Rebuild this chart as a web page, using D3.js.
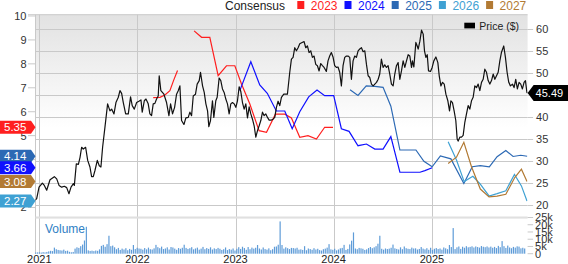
<!DOCTYPE html>
<html lang="en">
<head>
<meta charset="utf-8">
<script src="https://cdn.jsdelivr.net/npm/d3@7"></script>
<style>
  body { margin: 0; background: #fff; }
  svg { display: block; font-family: "Liberation Sans", Arial, sans-serif; }
</style>
</head>
<body>
<div id="chart"></div>
<script>

// price, weekly-ish closes: [decimal year, $]
var price = [
  [2020.956,21.0],[2020.973,21.4],[2020.997,24.0],[2021.031,24.9],[2021.051,24.4],[2021.075,23.3],[2021.109,25.7],[2021.153,26.4],[2021.177,25.9],[2021.201,24.4],
  [2021.228,24.0],[2021.255,24.2],[2021.279,23.9],[2021.302,22.5],[2021.323,24.0],[2021.347,24.8],[2021.357,24.4],[2021.377,29.3],[2021.398,29.2],[2021.415,30.8],
  [2021.431,33.1],[2021.448,32.7],[2021.472,33.1],[2021.493,30.1],[2021.516,28.6],[2021.533,26.4],[2021.550,26.4],[2021.567,27.8],[2021.591,30.1],[2021.611,28.9],
  [2021.628,28.6],[2021.645,33.1],[2021.669,37.7],[2021.696,43.0],[2021.720,41.4],[2021.737,41.8],[2021.761,40.7],[2021.781,43.3],[2021.805,44.5],[2021.822,46.0],
  [2021.839,45.4],[2021.856,43.3],[2021.880,40.7],[2021.907,40.7],[2021.930,44.6],[2021.947,42.6],[2021.968,41.8],[2021.992,43.3],[2022.015,43.6],[2022.036,43.9],
  [2022.049,41.1],[2022.070,43.7],[2022.087,44.1],[2022.110,43.0],[2022.127,40.7],[2022.144,40.3],[2022.161,43.0],[2022.178,43.1],[2022.195,44.1],[2022.212,44.8],
  [2022.222,49.4],[2022.239,46.0],[2022.270,45.2],[2022.297,43.3],[2022.321,40.3],[2022.338,43.0],[2022.358,40.7],[2022.379,42.2],[2022.399,45.2],[2022.416,46.0],
  [2022.433,47.1],[2022.450,39.2],[2022.474,38.3],[2022.494,39.8],[2022.518,39.9],[2022.535,41.1],[2022.552,40.3],[2022.569,44.8],[2022.592,45.2],[2022.609,47.5],
  [2022.630,48.3],[2022.643,50.2],[2022.664,47.1],[2022.681,45.6],[2022.698,43.0],[2022.715,41.4],[2022.728,37.8],[2022.745,39.2],[2022.765,43.7],[2022.779,39.9],
  [2022.799,43.7],[2022.813,44.5],[2022.833,48.9],[2022.850,48.3],[2022.867,46.4],[2022.884,45.6],[2022.901,44.1],[2022.918,43.0],[2022.935,40.7],[2022.952,43.0],
  [2022.969,43.3],[2022.986,43.0],[2023.003,42.2],[2023.020,43.7],[2023.037,46.9],[2023.054,45.8],[2023.071,43.3],[2023.088,41.8],[2023.105,43.0],[2023.122,39.8],
  [2023.139,42.3],[2023.156,40.7],[2023.173,39.5],[2023.190,38.0],[2023.207,35.4],[2023.224,36.9],[2023.241,38.0],[2023.258,39.2],[2023.275,41.1],[2023.292,40.3],
  [2023.309,40.7],[2023.326,39.9],[2023.343,39.3],[2023.366,39.3],[2023.383,39.5],[2023.400,39.9],[2023.417,42.2],[2023.434,43.6],[2023.451,42.6],[2023.468,44.5],
  [2023.492,45.2],[2023.529,45.2],[2023.553,50.2],[2023.570,53.2],[2023.587,53.6],[2023.604,55.8],[2023.621,55.1],[2023.638,55.8],[2023.655,56.7],[2023.679,57.0],
  [2023.699,57.2],[2023.716,55.8],[2023.733,56.2],[2023.750,54.7],[2023.767,55.1],[2023.784,53.6],[2023.801,53.9],[2023.818,52.0],[2023.835,51.7],[2023.852,50.5],
  [2023.869,52.2],[2023.886,51.7],[2023.903,51.3],[2023.926,50.4],[2023.943,52.8],[2023.960,53.9],[2023.977,54.7],[2023.994,53.7],[2024.011,51.7],[2024.028,51.3],
  [2024.045,51.4],[2024.062,50.2],[2024.079,47.1],[2024.096,51.7],[2024.113,53.6],[2024.130,53.9],[2024.147,53.9],[2024.164,53.6],[2024.181,48.6],[2024.198,52.8],
  [2024.215,53.9],[2024.232,53.6],[2024.249,55.1],[2024.266,55.5],[2024.283,55.8],[2024.300,54.9],[2024.317,55.1],[2024.334,52.0],[2024.351,49.4],[2024.368,49.0],
  [2024.385,47.5],[2024.402,47.1],[2024.419,47.5],[2024.436,47.9],[2024.453,48.6],[2024.469,49.8],[2024.486,53.2],[2024.503,51.3],[2024.520,51.9],[2024.537,51.3],
  [2024.554,51.7],[2024.571,49.8],[2024.588,47.5],[2024.605,47.1],[2024.622,49.8],[2024.639,51.7],[2024.656,52.4],[2024.673,48.6],[2024.690,50.5],[2024.707,52.8],
  [2024.724,51.3],[2024.741,52.8],[2024.758,54.2],[2024.775,53.9],[2024.792,51.3],[2024.802,52.8],[2024.816,51.4],[2024.836,57.0],[2024.850,56.2],[2024.860,55.5],
  [2024.877,57.3],[2024.894,59.8],[2024.911,58.9],[2024.924,55.1],[2024.938,53.6],[2024.952,54.2],[2024.965,50.5],[2024.985,50.4],[2025.002,51.3],[2025.019,52.8],
  [2025.040,53.7],[2025.060,52.4],[2025.074,49.4],[2025.091,47.1],[2025.108,47.9],[2025.125,47.5],[2025.142,45.2],[2025.162,43.7],[2025.179,41.4],[2025.193,43.7],
  [2025.209,43.3],[2025.226,41.4],[2025.243,39.2],[2025.257,35.0],[2025.267,34.5],[2025.284,35.4],[2025.301,35.4],[2025.318,35.8],[2025.335,38.8],[2025.352,40.7],
  [2025.369,42.6],[2025.386,41.8],[2025.403,43.7],[2025.420,44.5],[2025.437,47.1],[2025.454,46.7],[2025.471,47.5],[2025.488,46.0],[2025.505,47.9],[2025.522,48.6],
  [2025.539,50.9],[2025.556,50.2],[2025.573,48.3],[2025.590,47.5],[2025.607,48.3],[2025.624,49.8],[2025.641,48.6],[2025.658,49.4],[2025.675,50.2],[2025.692,52.8],
  [2025.708,54.7],[2025.732,56.2],[2025.749,53.6],[2025.766,50.2],[2025.783,47.9],[2025.800,47.1],[2025.821,47.5],[2025.837,46.7],[2025.854,48.6],[2025.871,46.4],
  [2025.888,47.9],[2025.905,47.5],[2025.922,46.4],[2025.939,47.9],[2025.953,48.3],[2025.968,45.6],[2025.975,45.49]
];

// consensus EPS by fiscal year: [decimal year, EPS], null = no estimate
var eps2023 = [
  [2022.161,6.59],[2022.229,6.60],[2022.280,6.70],[2022.331,6.88],[2022.368,7.30],[2022.409,7.72],[2022.49,null],
  [2022.578,9.38],[2022.654,9.11],[2022.738,9.11],[2022.823,7.51],[2022.908,7.92],[2022.993,7.92],[2023.061,7.16],
  [2023.146,6.32],[2023.240,5.21],[2023.316,5.14],[2023.407,5.90],[2023.502,5.90],[2023.570,5.74],[2023.655,4.93],
  [2023.739,5.00],[2023.825,4.86],[2023.909,5.35],[2023.994,5.35]
];
var eps2024 = [
  [2023.044,6.88],[2023.156,8.09],[2023.247,7.12],[2023.324,6.77],[2023.416,6.03],[2023.502,6.03],[2023.578,5.29],
  [2023.655,6.00],[2023.746,6.62],[2023.831,6.91],[2023.909,6.67],[2024.001,6.67],[2024.079,5.29],[2024.157,5.18],
  [2024.248,4.58],[2024.334,4.65],[2024.419,4.44],[2024.503,4.44],[2024.582,4.96],[2024.674,3.47],[2024.878,3.47],
  [2024.928,3.54],[2025.002,3.66]
];
var eps2025 = [
  [2024.167,6.92],[2024.248,6.68],[2024.332,7.08],[2024.419,7.06],[2024.503,7.02],[2024.582,6.23],[2024.674,4.40],
  [2024.837,4.40],[2024.918,3.93],[2025.002,3.70],[2025.086,4.15],[2025.193,4.03],[2025.325,3.00],[2025.411,3.70],
  [2025.493,3.75],[2025.585,3.70],[2025.664,4.12],[2025.753,4.38],[2025.827,4.13],[2025.905,4.18],[2025.971,4.14]
];
var eps2026 = [
  [2025.165,4.75],[2025.250,3.98],[2025.328,3.08],[2025.417,3.30],[2025.491,2.98],[2025.582,2.48],[2025.664,2.58],
  [2025.753,2.70],[2025.841,3.38],[2025.912,2.90],[2025.969,2.27]
];
var eps2027 = [
  [2025.165,3.84],[2025.250,4.10],[2025.325,4.72],[2025.403,3.70],[2025.493,2.77],[2025.582,2.44],[2025.664,2.47],
  [2025.753,2.55],[2025.844,3.25],[2025.912,3.60],[2025.969,3.08]
];

var seriesNames = ["2023", "2024", "2025", "2026", "2027"];
var seriesColors = ["#ff1f1f", "#1010ff", "#2c69b4", "#3fa1d3", "#b27a34"];

// weekly volume in thousands, first week ending 2020-12-18
var volumeStart = "2020-12-18";
var volume = [
  0.8,0.9,1.0,0.8,1.1,0.9,1.2,1.6,2.0,1.8,4.2,3.1,2.6,
  2.4,2.2,2.8,1.9,2.1,1.3,1.0,1.2,3.5,4.4,4.0,5.2,6.3,
  9.1,18.6,2.3,1.9,2.1,1.8,2.2,2.0,3.0,5.4,6.1,4.8,6.6,
  12.4,5.2,5.6,4.4,3.1,4.0,2.6,3.5,2.9,3.8,2.4,3.3,2.7,
  6.0,3.2,4.1,3.6,3.4,2.8,3.9,3.0,4.2,3.1,2.9,3.7,6.1,
  4.5,3.8,4.9,3.2,3.6,4.4,2.9,4.6,4.3,3.5,2.7,3.9,3.4,
  4.1,6.2,4.0,3.3,3.8,4.5,3.0,3.6,4.2,2.8,3.5,4.7,3.1,
  3.9,3.3,4.4,2.9,3.7,3.2,4.0,3.4,2.6,3.1,4.3,2.5,3.2,
  2.8,3.6,2.2,3.4,4.5,3.3,4.8,3.9,2.7,4.6,3.1,4.2,3.5,
  4.1,6.0,3.6,2.9,4.3,3.2,2.8,3.7,2.4,3.1,4.8,5.0,6.2,
  22.3,6.0,3.5,4.4,3.8,3.2,4.0,3.9,3.6,4.1,2.8,3.0,2.6,
  5.2,2.4,3.6,3.2,2.7,3.8,2.9,3.4,2.5,2.2,3.1,3.5,4.2,
  6.6,3.0,2.7,3.4,2.3,2.9,3.7,4.0,6.1,2.6,3.3,6.4,9.0,
  14.7,3.6,3.1,4.0,3.7,3.4,2.6,3.0,3.9,4.6,3.8,4.4,5.2,
  6.9,12.4,3.4,2.8,3.6,3.2,3.5,4.1,6.3,3.7,3.3,2.9,4.4,
  3.1,5.0,3.8,3.4,3.2,4.2,3.6,3.7,2.9,3.3,4.6,3.5,3.0,
  3.8,2.7,4.1,2.6,3.4,3.9,3.2,3.6,2.8,4.3,3.7,3.1,6.0,
  4.6,17.7,3.2,4.4,5.0,3.3,4.8,4.1,5.2,4.4,4.7,5.1,4.3,
  5.0,4.6,4.2,5.3,4.8,4.5,5.0,4.3,4.9,4.1,4.7,3.9,5.4,
  4.5,8.7,5.2,4.0,5.6,4.3,3.8,4.7,4.2,5.1,4.9,3.7,4.1,3.6
];

var priceTicks = [20, 25, 30, 35, 40, 45, 50, 55, 60];
var epsTicks = [2, 3, 4, 5, 6, 7, 8, 9, 10];
var volTicks = [0, 5, 10, 15, 20, 25];
var yearTicks = [2021, 2022, 2023, 2024, 2025];


var width = 568, height = 264;
var plotLeft = 35.5, plotRight = 527.6, plotTop = 14.7, mainBottom = 216.5, volTop = 218.6, volBottom = 253.7;

function toDate(t) {
    var y = Math.floor(t), a = Date.UTC(y, 0, 1), b = Date.UTC(y + 1, 0, 1);
    return new Date(a + (t - y) * (b - a));
}

var x = d3.scaleUtc().domain([toDate(2020.961), toDate(2025.975)]).range([plotLeft, plotRight]);
var yPrice = d3.scaleLinear().domain([17.31, 63.33]).range([mainBottom, plotTop]);
var yEps = d3.scaleLinear().domain([1.622, 10.054]).range([mainBottom, plotTop]);
var yVol = d3.scaleLinear().domain([0, 25]).range([volBottom, 217.5]);

var svg = d3.select("#chart").append("svg")
    .attr("width", width)
    .attr("height", height);

var defs = svg.append("defs");
var grad = defs.append("linearGradient")
    .attr("id", "bg").attr("x1", 0).attr("y1", 0).attr("x2", 0).attr("y2", 1);
grad.append("stop").attr("offset", 0).attr("stop-color", "#e2e2e2");
grad.append("stop").attr("offset", 0.56).attr("stop-color", "#ffffff");

defs.append("clipPath").attr("id", "clip")
    .append("rect")
    .attr("x", plotLeft).attr("y", plotTop)
    .attr("width", plotRight - plotLeft).attr("height", mainBottom - plotTop);

/*
 background of price panel
 */
svg.append("rect")
    .attr("x", plotLeft).attr("y", plotTop)
    .attr("width", plotRight - plotLeft).attr("height", mainBottom - plotTop)
    .style("fill", "url(#bg)");

// horizontal grid on price ticks
svg.selectAll(".hgrid")
    .data(priceTicks)
    .enter()
    .append("line")
    .attr("x1", plotLeft).attr("x2", plotRight)
    .attr("y1", function(d){ return Math.round(yPrice(d)) + 0.5; })
    .attr("y2", function(d){ return Math.round(yPrice(d)) + 0.5; })
    .style("stroke", "#c9c9c9");

// vertical grid on years, through both panels
svg.selectAll(".vgrid")
    .data(yearTicks)
    .enter()
    .append("line")
    .attr("x1", function(d){ return Math.round(x(toDate(d))) + 0.5; })
    .attr("x2", function(d){ return Math.round(x(toDate(d))) + 0.5; })
    .attr("y1", plotTop).attr("y2", volBottom)
    .style("stroke", "#c9c9c9");

// frame
svg.append("line")
    .attr("x1", 28).attr("x2", plotRight)
    .attr("y1", plotTop).attr("y2", plotTop)
    .style("stroke", "#c9c9c9");
svg.append("line")
    .attr("x1", plotLeft).attr("x2", plotLeft)
    .attr("y1", plotTop).attr("y2", volBottom)
    .style("stroke", "#c9c9c9");
svg.append("rect")
    .attr("x", plotLeft).attr("y", mainBottom)
    .attr("width", plotRight - plotLeft).attr("height", volTop - mainBottom)
    .style("fill", "#e0e0e0");

/*
 volume
 */
var start = d3.utcParse("%Y-%m-%d")(volumeStart);
svg.selectAll(".vol")
    .data(volume)
    .enter()
    .append("rect")
    .attr("x", function(d, i){ return x(d3.utcDay.offset(start, 7 * i)) - 0.6; })
    .attr("width", 1.2)
    .attr("y", function(d){ return yVol(d); })
    .attr("height", function(d){ return volBottom - yVol(d); })
    .style("fill", "#5f9cd8");

svg.append("text")
    .attr("x", 45).attr("y", 233)
    .text("Volume")
    .style("font-size", "12px")
    .style("fill", "#2f80c4");

/*
 consensus lines
 */
var plot = svg.append("g").attr("clip-path", "url(#clip)");
var epsLine = d3.line()
    .defined(function(d){ return d[1] != null; })
    .x(function(d){ return x(toDate(d[0])); })
    .y(function(d){ return yEps(d[1]); });

var allEps = [eps2023, eps2024, eps2025, eps2026, eps2027];
allEps.forEach(function(s, i){
    plot.append("path")
        .attr("d", epsLine(s))
        .style("fill", "none")
        .style("stroke", seriesColors[i])
        .style("stroke-width", 1.2);
});

// price line
var priceLine = d3.line()
    .x(function(d){ return x(toDate(d[0])); })
    .y(function(d){ return yPrice(d[1]); });
plot.append("path")
    .attr("d", priceLine(price))
    .style("fill", "none")
    .style("stroke", "#111")
    .style("stroke-width", 1.2)
    .style("stroke-linejoin", "round");

/*
 right axis: price
 */
svg.selectAll(".ptick")
    .data(priceTicks)
    .enter()
    .append("line")
    .attr("x1", plotRight).attr("x2", plotRight + 5.5)
    .attr("y1", function(d){ return Math.round(yPrice(d)) + 0.5; })
    .attr("y2", function(d){ return Math.round(yPrice(d)) + 0.5; })
    .style("stroke", "#c9c9c9");
svg.selectAll(".plabel")
    .data(priceTicks)
    .enter()
    .append("text")
    .attr("x", plotRight + 8.5)
    .attr("y", function(d){ return yPrice(d); })
    .attr("dy", "0.36em")
    .text(function(d){ return d; })
    .style("font-size", "11px")
    .style("fill", "#333");

// right axis: volume
svg.selectAll(".vtick")
    .data(volTicks)
    .enter()
    .append("line")
    .attr("x1", plotRight).attr("x2", plotRight + 5.5)
    .attr("y1", function(d){ return yVol(d); })
    .attr("y2", function(d){ return yVol(d); })
    .style("stroke", "#c9c9c9");
svg.selectAll(".vlabel")
    .data(volTicks)
    .enter()
    .append("text")
    .attr("x", plotRight + 7.5)
    .attr("y", function(d){ return yVol(d); })
    .attr("dy", "0.36em")
    .text(function(d){ return d === 0 ? "0" : d + "k"; })
    .style("font-size", "11px")
    .style("fill", "#333");

/*
 left axis: EPS
 */
svg.selectAll(".etick")
    .data(epsTicks)
    .enter()
    .append("line")
    .attr("x1", 28).attr("x2", plotLeft)
    .attr("y1", function(d){ return yEps(d); })
    .attr("y2", function(d){ return yEps(d); })
    .style("stroke", "#c9c9c9");
svg.selectAll(".elabel")
    .data(epsTicks)
    .enter()
    .append("text")
    .attr("x", 26.5)
    .attr("y", function(d){ return yEps(d); })
    .attr("dy", "0.36em")
    .attr("text-anchor", "end")
    .text(function(d){ return d; })
    .style("font-size", "11px")
    .style("fill", "#333");

// x axis years
svg.selectAll(".xlabel")
    .data(yearTicks)
    .enter()
    .append("text")
    .attr("x", function(d){ return x(toDate(d)); })
    .attr("y", 263)
    .attr("text-anchor", "middle")
    .text(function(d){ return d; })
    .style("font-size", "11px")
    .style("fill", "#222");

/*
 last value tags
 */
var tags = allEps.map(function(s, i){
    return { v: s[s.length - 1][1], color: seriesColors[i] };
}).sort(function(a, b){ return b.v - a.v; });

var tag = svg.selectAll(".tag")
    .data(tags)
    .enter()
    .append("g")
    .attr("transform", function(d){ return "translate(0," + yEps(d.v) + ")"; });
tag.append("path")
    .attr("d", "M0,-6.5H31L35.5,0L31,6.5H0Z")
    .style("fill", function(d){ return d.color; });
tag.append("text")
    .attr("x", 4).attr("dy", "0.36em")
    .text(function(d){ return d3.format(".2f")(d.v); })
    .style("font-size", "11.5px")
    .style("fill", "#fff");

var lastPrice = price[price.length - 1][1];
var ptag = svg.append("g")
    .attr("transform", "translate(0," + yPrice(lastPrice) + ")");
ptag.append("path")
    .attr("d", "M" + plotRight + ",0L" + (plotRight + 6) + ",-8H568V8H" + (plotRight + 6) + "Z")
    .style("fill", "#000");
ptag.append("text")
    .attr("x", plotRight + 8).attr("dy", "0.36em")
    .text(d3.format(".2f")(lastPrice))
    .style("font-size", "11px")
    .style("fill", "#fff");

/*
 legends
 */
svg.append("text")
    .attr("x", 225).attr("y", 9.5)
    .text("Consensus")
    .style("font-size", "12px")
    .style("fill", "#222");

var leg = svg.selectAll(".leg")
    .data(seriesNames)
    .enter()
    .append("g")
    .attr("transform", function(d, i){ return "translate(" + (297.3 + i * 47.2) + ",0)"; });
leg.append("rect")
    .attr("x", 0).attr("y", 1)
    .attr("width", 7).attr("height", 8)
    .style("fill", function(d, i){ return seriesColors[i]; });
leg.append("text")
    .attr("x", 13.5).attr("y", 9.5)
    .text(function(d){ return d; })
    .style("font-size", "12px")
    .style("fill", function(d, i){ return seriesColors[i]; });

svg.append("rect")
    .attr("x", 464.3).attr("y", 22.7)
    .attr("width", 10.7).attr("height", 5.7)
    .style("fill", "#000");
svg.append("text")
    .attr("x", 479.3).attr("y", 29.5)
    .text("Price ($)")
    .style("font-size", "10.5px")
    .style("fill", "#222");

</script>
</body>
</html>
